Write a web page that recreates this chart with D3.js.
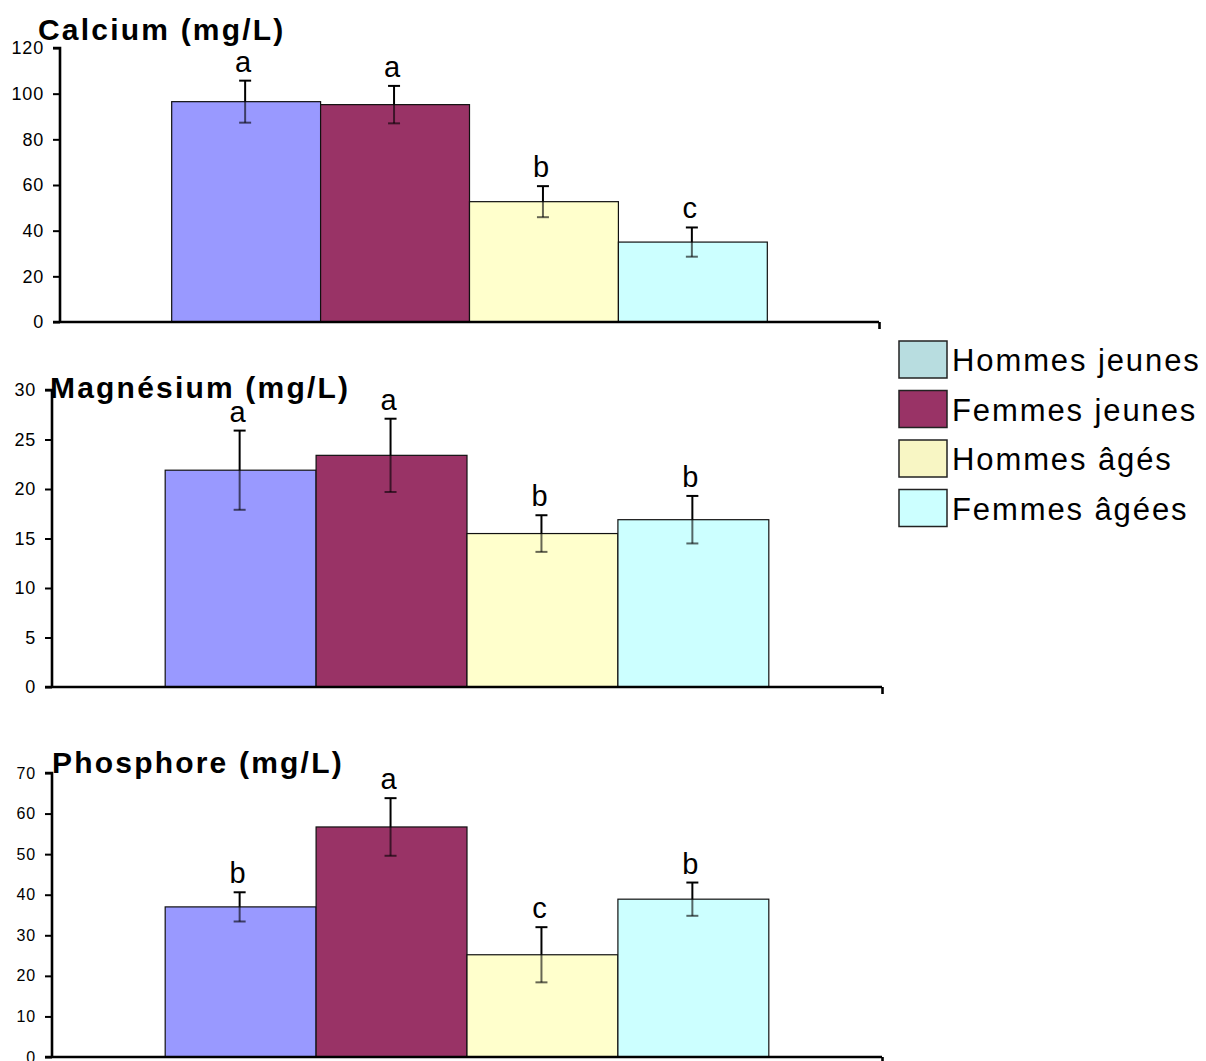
<!DOCTYPE html>
<html><head><meta charset="utf-8">
<script src="https://cdn.jsdelivr.net/npm/d3@7"></script>
<style>
html,body{margin:0;padding:0;background:#fff;}
svg{display:block;font-family:"Liberation Sans",Arial,sans-serif;}
</style></head>
<body>
<svg id="chart" width="1206" height="1061"></svg>
<script>
// ---- data ----
const series = ["Hommes jeunes", "Femmes jeunes", "Hommes âgés", "Femmes âgées"];
const barColors = ["#9999FF", "#993366", "#FFFFCC", "#CCFFFF"];
const legendColors = ["#B8DDE0", "#993366", "#F8F6C4", "#CCFFFF"];

const titles = ["Calcium (mg/L)", "Magnésium (mg/L)", "Phosphore (mg/L)"];
const yMaxes = [120, 30, 70];
const yTickValues = [
  [0, 20, 40, 60, 80, 100, 120],
  [0, 5, 10, 15, 20, 25, 30],
  [0, 10, 20, 30, 40, 50, 60, 70]
];
const calciumValues   = [96.5, 95.2, 52.7, 35.0];
const calciumErrors   = [9.2, 8.2, 6.8, 6.4];
const calciumLetters  = ["a", "a", "b", "c"];
const magnesiumValues  = [21.9, 23.4, 15.5, 16.9];
const magnesiumErrors  = [4.0, 3.7, 1.85, 2.4];
const magnesiumLetters = ["a", "a", "b", "b"];
const phosphoreValues  = [37.0, 56.7, 25.2, 38.9];
const phosphoreErrors  = [3.6, 7.1, 6.8, 4.1];
const phosphoreLetters = ["b", "a", "c", "b"];

const allValues = [calciumValues, magnesiumValues, phosphoreValues];
const allErrors = [calciumErrors, magnesiumErrors, phosphoreErrors];
const allLetters = [calciumLetters, magnesiumLetters, phosphoreLetters];

// ---- layout ----
const layouts = [
  {left: 60, right: 879, top: 48, bottom: 322, titleX: 38, titleY: 40, tickFont: 18},
  {left: 52, right: 882, top: 390, bottom: 687, titleX: 50, titleY: 398, tickFont: 18},
  {left: 52, right: 882, top: 773, bottom: 1057, titleX: 52, titleY: 773, tickFont: 16}
];

const svg = d3.select("#chart");

layouts.forEach((L, p) => {
  const g = svg.append("g");
  const vals = allValues[p], errs = allErrors[p], lets = allLetters[p];

  const y = d3.scaleLinear().domain([0, yMaxes[p]]).range([L.bottom, L.top]);
  const x = d3.scaleBand().domain(series).range([L.left, L.right])
    .paddingInner(0).paddingOuter(0.75);

  // bars
  g.selectAll("rect.bar").data(series).join("rect")
    .attr("class", "bar")
    .attr("x", d => x(d))
    .attr("width", x.bandwidth())
    .attr("y", (d, i) => y(vals[i]))
    .attr("height", (d, i) => y(0) - y(vals[i]))
    .attr("fill", (d, i) => barColors[i])
    .attr("stroke", "#111")
    .attr("stroke-width", 1.2);

  // error bars
  const eb = g.selectAll("g.err").data(series).join("g").attr("class", "err");
  const cx = d => x(d) + x.bandwidth() / 2 - 1;
  eb.append("line")
    .attr("x1", cx).attr("x2", cx)
    .attr("y1", (d, i) => y(vals[i])).attr("y2", (d, i) => y(vals[i] - errs[i]))
    .attr("stroke", "#000").attr("stroke-opacity", 0.6).attr("stroke-width", 2);
  eb.append("line")
    .attr("x1", d => cx(d) - 6).attr("x2", d => cx(d) + 6)
    .attr("y1", (d, i) => y(vals[i] - errs[i])).attr("y2", (d, i) => y(vals[i] - errs[i]))
    .attr("stroke", "#000").attr("stroke-opacity", 0.6).attr("stroke-width", 2);
  eb.append("line")
    .attr("x1", cx).attr("x2", cx)
    .attr("y1", (d, i) => y(vals[i])).attr("y2", (d, i) => y(vals[i] + errs[i]))
    .attr("stroke", "#000").attr("stroke-width", 2);
  eb.append("line")
    .attr("x1", d => cx(d) - 6).attr("x2", d => cx(d) + 6)
    .attr("y1", (d, i) => y(vals[i] + errs[i])).attr("y2", (d, i) => y(vals[i] + errs[i]))
    .attr("stroke", "#000").attr("stroke-width", 2);

  // letters
  g.selectAll("text.letter").data(series).join("text")
    .attr("class", "letter")
    .attr("x", d => cx(d) - 2)
    .attr("y", (d, i) => y(vals[i] + errs[i]) - 9)
    .attr("text-anchor", "middle")
    .attr("font-size", 29)
    .attr("fill", "#000")
    .text((d, i) => lets[i]);

  // y axis
  const yAxis = g.append("g")
    .attr("transform", `translate(${L.left},0)`)
    .call(d3.axisLeft(y).tickValues(yTickValues[p]).tickSize(7).tickPadding(9).tickFormat(d3.format("d")));
  yAxis.select(".domain").attr("stroke", "#000").attr("stroke-width", 2.6)
    .attr("d", `M-7,${L.top}H0V${L.bottom}`);
  yAxis.selectAll(".tick line").attr("stroke", "#000").attr("stroke-width", 2);
  yAxis.selectAll(".tick text").attr("font-size", L.tickFont).attr("fill", "#000")
    .attr("font-family", "'Liberation Sans',Arial,sans-serif").attr("letter-spacing", 0.8);

  // x axis (single category, end tick)
  const xl = d3.scaleLinear().domain([0, 1]).range([L.left, L.right]);
  const xAxis = g.append("g")
    .attr("transform", `translate(0,${L.bottom})`)
    .call(d3.axisBottom(xl).tickValues([1]).tickSize(7).tickFormat(""));
  xAxis.select(".domain").attr("stroke", "#000").attr("stroke-width", 2.6)
    .attr("d", `M${L.left - 7},0H${L.right}`);
  xAxis.selectAll(".tick line").attr("stroke", "#000").attr("stroke-width", 2.6);

  // title
  g.append("text")
    .attr("x", L.titleX).attr("y", L.titleY)
    .attr("font-size", 30).attr("font-weight", "bold")
    .attr("letter-spacing", 2.2)
    .attr("fill", "#000")
    .text(titles[p]);
});

// legend
const legend = svg.append("g").attr("transform", "translate(899,341)");
const legendRow = 49.5;
const lg = legend.selectAll("g").data(series).join("g")
  .attr("transform", (d, i) => `translate(0,${i * legendRow})`);
lg.append("rect")
  .attr("x", 0).attr("y", 0).attr("width", 48).attr("height", 37)
  .attr("fill", (d, i) => legendColors[i])
  .attr("stroke", "#222").attr("stroke-width", 1.5);
lg.append("text")
  .attr("x", 53).attr("y", 30)
  .attr("font-size", 31)
  .attr("letter-spacing", 1.9)
  .attr("fill", "#000")
  .text(d => d);
</script>
</body></html>
